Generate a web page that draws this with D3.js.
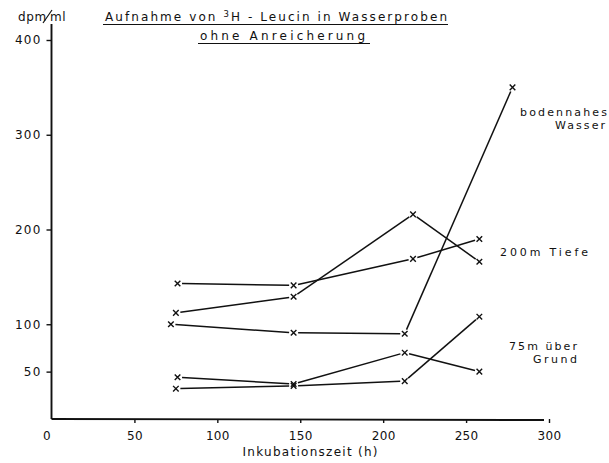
<!DOCTYPE html>
<html>
<head>
<meta charset="utf-8">
<script src="https://cdn.jsdelivr.net/npm/d3@7"></script>
<style>
  body { margin: 0; background: #fff; }
  svg text { font-family: "DejaVu Sans", sans-serif; fill: #111; }
</style>
</head>
<body>
<script>
// Incubation time (h) and measured activity (dpm/ml) per sample series
const tiefeA_h = [76, 146, 218, 258];
const tiefeA_v = [143, 141, 169, 190];
const tiefeB_h = [75, 146, 218, 258];
const tiefeB_v = [112, 129, 216, 166];
const boden_h  = [72, 146, 213, 278];
const boden_v  = [100, 91, 90, 350];
const grundA_h = [76, 146, 213, 258];
const grundA_v = [44, 37, 70, 50];
const grundB_h = [75, 146, 213, 258];
const grundB_v = [32, 35, 40, 108];

const xTicks = [0, 50, 100, 150, 200, 250, 300];
const yTicks = [50, 100, 200, 300, 400];

const W = 609, H = 463;
const svg = d3.select("body").append("svg").attr("width", W).attr("height", H);

const x = d3.scaleLinear().domain([0, 300]).range([51.5, 549]);
const y = d3.scaleLinear().domain([0, 400]).range([419, 40]);

const ink = "#111";

// Axes
const yAxis = d3.axisLeft(y).tickValues(yTicks).tickSize(5).tickPadding(5).tickFormat(d3.format("d"));
const gy = svg.append("g").attr("transform", `translate(${x(0)},0)`).call(yAxis);
gy.select(".domain").remove();
gy.selectAll(".tick line").attr("stroke", ink).attr("stroke-width", 1.4);
gy.selectAll(".tick text").attr("font-size", 12).attr("letter-spacing", 1.2).attr("fill", ink);

const xAxis = d3.axisBottom(x).tickValues(xTicks).tickSize(4).tickPadding(8).tickFormat(d3.format("d"));
const gx = svg.append("g").attr("transform", `translate(0,${y(0)})`).call(xAxis);
gx.select(".domain").remove();
gx.selectAll(".tick line").attr("stroke", ink).attr("stroke-width", 1.4)
  .filter(d => d === 0).remove();
gx.selectAll(".tick text").attr("font-size", 12).attr("letter-spacing", 0.3).attr("fill", ink);
gx.selectAll(".tick").filter(d => d === 0).select("text").attr("dx", -5);

// Axis lines
svg.append("line").attr("x1", x(0)).attr("x2", x(0)).attr("y1", 24).attr("y2", y(0))
  .attr("stroke", ink).attr("stroke-width", 1.9);
svg.append("line").attr("x1", x(0)).attr("x2", x(297)).attr("y1", y(0)).attr("y2", y(0) + 1)
  .attr("stroke", ink).attr("stroke-width", 1.9);

// Axis titles
svg.append("text").attr("x", 18).attr("y", 21).attr("font-size", 12)
  .attr("letter-spacing", 0.6).text("dpm");
svg.append("text").attr("x", 50).attr("y", 21).attr("font-size", 12)
  .attr("letter-spacing", 0.6).text("ml");
svg.append("line").attr("x1", 43).attr("y1", 23).attr("x2", 52).attr("y2", 10)
  .attr("stroke", ink).attr("stroke-width", 1.2);

svg.append("text").attr("x", 310).attr("y", 456).attr("text-anchor", "middle")
  .attr("font-size", 12).attr("textLength", 135).attr("lengthAdjust", "spacing")
  .text("Inkubationszeit (h)");

// Title, underlined
const t1 = svg.append("text").attr("x", 105).attr("y", 21).attr("font-size", 12)
  .attr("textLength", 342).attr("lengthAdjust", "spacing");
t1.append("tspan").text("Aufnahme von ");
t1.append("tspan").attr("font-size", 8.5).attr("dy", -4).text("3");
t1.append("tspan").attr("dy", 4).text("H - Leucin in Wasserproben");
svg.append("line").attr("x1", 103).attr("x2", 448).attr("y1", 24.5).attr("y2", 24.5)
  .attr("stroke", ink).attr("stroke-width", 1.2);

svg.append("text").attr("x", 200).attr("y", 40).attr("font-size", 12)
  .attr("textLength", 165).attr("lengthAdjust", "spacing").text("ohne Anreicherung");
svg.append("line").attr("x1", 198).attr("x2", 370).attr("y1", 43.5).attr("y2", 43.5)
  .attr("stroke", ink).attr("stroke-width", 1.2);

// Series labels
function label(txt, xr, yb, len) {
  svg.append("text").attr("x", xr).attr("y", yb).attr("text-anchor", "end")
    .attr("font-size", 11).attr("textLength", len).attr("lengthAdjust", "spacing").text(txt);
}
label("bodennahes", 607, 115.5, 87);
label("Wasser", 605, 128.5, 50);
label("200m Tiefe", 588, 256, 88);
label("75m über", 577, 349.5, 68);
label("Grund", 577, 362.5, 44);

// Series polylines with small gaps at each cross
const series = [
  [tiefeA_h, tiefeA_v],
  [tiefeB_h, tiefeB_v],
  [boden_h, boden_v],
  [grundA_h, grundA_v],
  [grundB_h, grundB_v]
];
const gap = 4.5, arm = 2.8;
series.forEach(([hs, vs]) => {
  const pts = hs.map((h, i) => [x(h), y(vs[i])]);
  for (let i = 0; i < pts.length - 1; i++) {
    const [x1, y1] = pts[i], [x2, y2] = pts[i + 1];
    const len = Math.hypot(x2 - x1, y2 - y1);
    const ux = (x2 - x1) / len, uy = (y2 - y1) / len;
    svg.append("line")
      .attr("x1", x1 + ux * gap).attr("y1", y1 + uy * gap)
      .attr("x2", x2 - ux * gap).attr("y2", y2 - uy * gap)
      .attr("stroke", ink).attr("stroke-width", 1.5);
  }
  pts.forEach(([px, py]) => {
    svg.append("path")
      .attr("d", `M${px - arm},${py - arm}L${px + arm},${py + arm}M${px + arm},${py - arm}L${px - arm},${py + arm}`)
      .attr("stroke", ink).attr("stroke-width", 1.4).attr("fill", "none");
  });
});
</script>
</body>
</html>
